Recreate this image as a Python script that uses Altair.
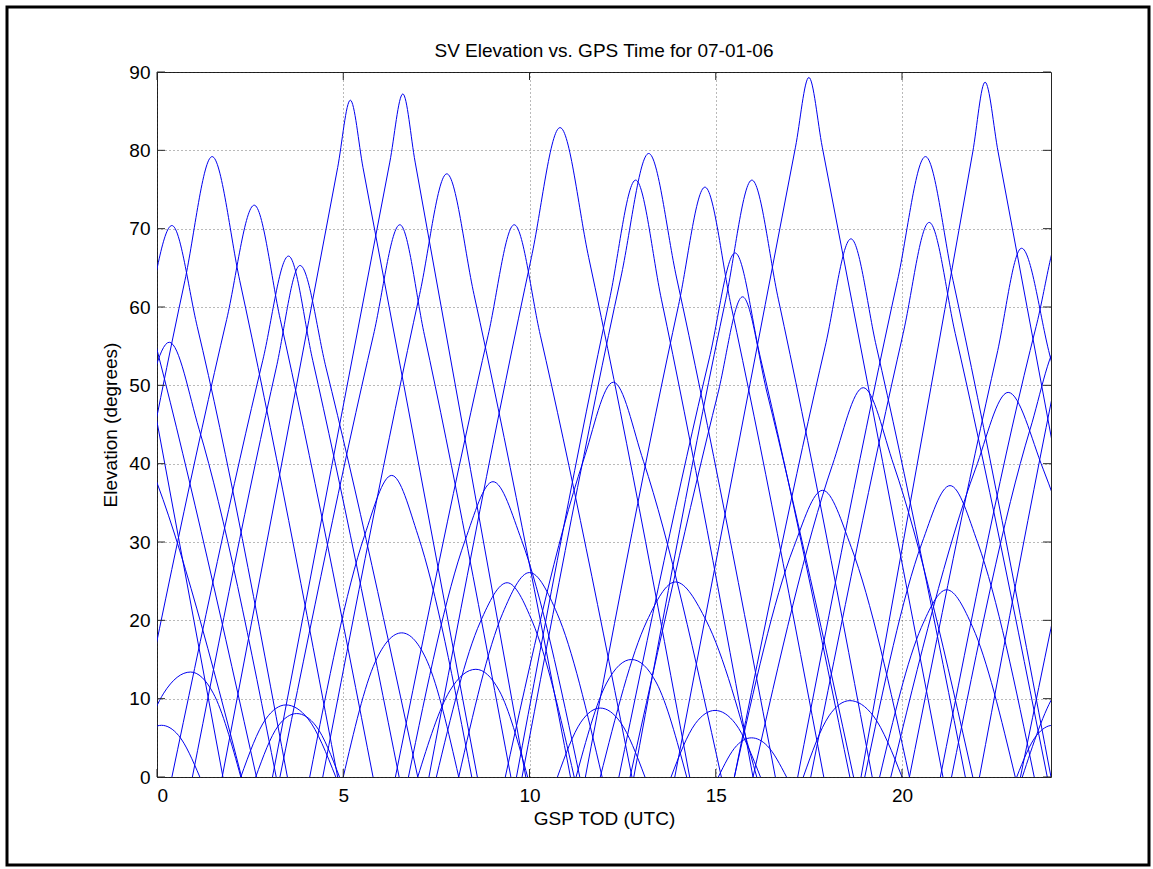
import altair as alt
import pandas as pd

# ---- data: one pass per index ----
# rise time, left shoulder time, peak time, right shoulder time, set time (hours)
rise_t = [-2.9, -2.6, -0.85, -0.7, -1.85, -0.75, 0.4, 0.95, 2.25, 2.65,
          1.75, 3.1, 3.3, 4.1, 5.0, 4.45, 7.0, 6.75, 7.5, 8.1,
          6.4, 7.3, 10.75, 9.35, 11.25, 9.65, 9.8, 11.9, 11.5, 13.8,
          12.4, 12.7, 15.07, 12.8, 13.9, 15.5, 17.35, 15.5, 16.0, 17.2,
          17.55, 19.0, 19.4, 18.9, 19.7, 20.2, 21.03, 21.33, 22.08, 23.18,
          23.23, 23.08, -5.03, -4.23, -3.73]
up_t = [-0.33, -0.49, -0.32, 0.18, 0.75, 1.87, 2.84, 3.20, 2.92, 3.25,
        4.85, 6.25, 5.81, 5.57, 5.86, 7.05, 7.86, 8.27, 8.68, 9.28,
        8.89, 10.05, 11.38, 11.44, 12.07, 12.15, 12.45, 13.15, 14.0, 14.45,
        14.83, 15.06, 15.56, 15.27, 17.14, 17.09, 18.04, 17.94, 18.13, 19.88,
        20.03, 20.53, 20.52, 21.90, 21.97, 22.55, 23.60, 23.44, 24.68, 25.80,
        24.11, 23.61, -2.03, -1.96, -1.38]
peak_t = [0.40, 0.33, 0.12, 0.9, 1.48, 2.61, 3.53, 3.84, 3.46, 3.75,
          5.19, 6.6, 6.52, 6.3, 6.57, 7.78, 8.56, 9.02, 9.4, 10.0,
          9.59, 10.82, 11.9, 12.25, 12.74, 12.85, 13.2, 13.92, 14.71, 14.98,
          15.52, 15.72, 15.96, 15.97, 17.5, 17.87, 18.6, 18.63, 18.96, 20.63,
          20.73, 21.29, 21.2, 22.23, 22.85, 23.21, 24.33, 24.26, 25.41, 26.54,
          24.83, 24.05, -1.70, -1.08, -0.72]
down_t = [1.08, 1.13, 0.58, 1.51, 2.22, 3.31, 4.18, 4.54, 4.06, 4.27,
          5.53, 6.93, 7.18, 7.01, 7.26, 8.51, 9.19, 9.79, 10.08, 10.74,
          10.29, 11.59, 12.44, 13.06, 13.41, 13.54, 13.95, 14.75, 15.41, 15.53,
          16.2, 16.38, 16.38, 16.68, 17.86, 18.64, 19.23, 19.31, 19.78, 21.37,
          21.43, 22.04, 21.9, 22.58, 23.79, 23.96, 25.01, 25.06, 26.15, 27.24,
          25.44, 24.51, -1.35, -0.14, 0.03]
set_t = [3.5, 3.2, 1.15, 2.25, 4.85, 5.8, 6.5, 7.0, 4.8, 4.9,
         8.6, 9.9, 9.5, 8.45, 8.1, 11.1, 9.95, 11.35, 11.2, 11.95,
         12.75, 14.3, 13.1, 15.15, 14.22, 16.0, 16.6, 16.1, 17.9, 16.2,
         18.6, 18.7, 16.9, 19.2, 21.1, 20.2, 20.0, 21.7, 21.9, 24.0,
         23.9, 23.55, 23.04, 25.7, 26.2, 26.6, 27.43, 27.13, 28.78, 29.73,
         26.18, 25.08, 1.77, 2.27, 2.67]
# elevation at the shoulders and at the peak (degrees)
shoulder_e = [57.5, 44.4, 5.3, 10.7, 63.4, 58.4, 53.2, 52.2, 7.4, 6.5,
              77.8, 78.5, 56.4, 30.8, 14.7, 61.6, 11.0, 30.2, 19.8, 20.9,
              56.4, 66.3, 7.0, 40.3, 12.0, 61.0, 63.7, 19.9, 60.2, 6.8,
              53.5, 49.0, 4.0, 61.0, 80.4, 29.3, 7.8, 55.0, 39.8, 63.4,
              56.6, 29.8, 19.1, 79.8, 39.3, 54.0, 57.5, 44.4, 63.4, 58.4,
              10.7, 5.3, 79.8, 39.3, 54.0]
peak_e = [70.4, 55.5, 6.6, 13.4, 79.2, 73.0, 66.5, 65.3, 9.2, 8.1,
          86.4, 87.2, 70.5, 38.5, 18.4, 77.0, 13.75, 37.7, 24.8, 26.1,
          70.5, 82.9, 8.8, 50.4, 15.0, 76.2, 79.6, 24.9, 75.3, 8.5,
          66.9, 61.3, 5.0, 76.2, 89.3, 36.6, 9.75, 68.7, 49.7, 79.2,
          70.8, 37.2, 23.9, 88.7, 49.1, 67.5, 70.4, 55.5, 79.2, 73.0,
          13.4, 6.6, 88.7, 49.1, 67.5]

x_ticks = [0, 5, 10, 15, 20]
y_ticks = [0, 10, 20, 30, 40, 50, 60, 70, 80, 90]

TITLE = "SV Elevation vs. GPS Time for 07-01-06"
XLABEL = "GSP TOD (UTC)"
YLABEL = "Elevation (degrees)"

# ---- build the long table ----
rows = []
for i in range(len(peak_t)):
    ts = [rise_t[i], up_t[i], peak_t[i], down_t[i], set_t[i]]
    es = [0.0, shoulder_e[i], peak_e[i], shoulder_e[i], 0.0]
    for k, (t, e) in enumerate(zip(ts, es)):
        rows.append({"sv": i, "k": k, "t": t, "e": e})
df = pd.DataFrame(rows)

W, H = 894, 705
FONT = "Liberation Sans"
FS = 19

xscale = alt.Scale(domain=[0, 24], nice=False, zero=False)
yscale = alt.Scale(domain=[0, 90], nice=False, zero=False)

xaxis = alt.Axis(values=x_ticks, title=XLABEL, grid=True, tickSize=0, domain=False,
                 labelPadding=9, titlePadding=4, format="d")
yaxis = alt.Axis(values=y_ticks, title=YLABEL, grid=True, tickSize=0, domain=False,
                 labelPadding=7, titlePadding=8, format="d")

X = alt.X("t:Q", scale=xscale, axis=xaxis)
Y = alt.Y("e:Q", scale=yscale, axis=yaxis)

lines = alt.Chart(df).mark_line(
    clip=True, interpolate="monotone", color="#0000f0", strokeWidth=1
).encode(
    x=X,
    y=Y,
    detail="sv:N",
    order="k:Q",
)

xt_df = pd.DataFrame({"t": x_ticks})
yt_df = pd.DataFrame({"e": y_ticks})
TK = 8
tick_color = "#262626"
xt_bottom = alt.Chart(xt_df).mark_rule(color=tick_color, strokeWidth=1).encode(
    x=X, y=alt.value(H), y2=alt.value(H - TK))
xt_top = alt.Chart(xt_df).mark_rule(color=tick_color, strokeWidth=1).encode(
    x=X, y=alt.value(0), y2=alt.value(TK))
yt_left = alt.Chart(yt_df).mark_rule(color=tick_color, strokeWidth=1).encode(
    y=Y, x=alt.value(0), x2=alt.value(TK))
yt_right = alt.Chart(yt_df).mark_rule(color=tick_color, strokeWidth=1).encode(
    y=Y, x=alt.value(W - TK), x2=alt.value(W))

one = pd.DataFrame({"a": [0]})
frame = alt.Chart(one).mark_rect(
    filled=False, stroke="#000000", strokeWidth=3, clip=False
).encode(
    x=alt.value(-150), x2=alt.value(992), y=alt.value(-65), y2=alt.value(793)
)

title_txt = alt.Chart(one).mark_text(
    text=TITLE, font=FONT, fontSize=FS, color="#000000",
    align="center", baseline="alphabetic", clip=False
).encode(x=alt.value(W / 2), y=alt.value(-15))

chart = alt.layer(lines, xt_bottom, xt_top, yt_left, yt_right, frame, title_txt).properties(
    width=W,
    height=H,
    autosize=alt.AutoSizeParams(type="none"),
    padding={"left": 157, "top": 72, "right": 102, "bottom": 92},
    background="#ffffff",
).configure_axis(
    labelFont=FONT, titleFont=FONT, labelFontSize=FS, titleFontSize=FS,
    titleFontWeight="normal", labelColor="#000000", titleColor="#000000",
    gridColor="#000000", gridOpacity=0.55, gridDash=[1, 3], gridWidth=1,
).configure_view(
    stroke="#262626", strokeWidth=1
)

chart.save("out.html", embed_options={"renderer": "svg", "actions": False})
